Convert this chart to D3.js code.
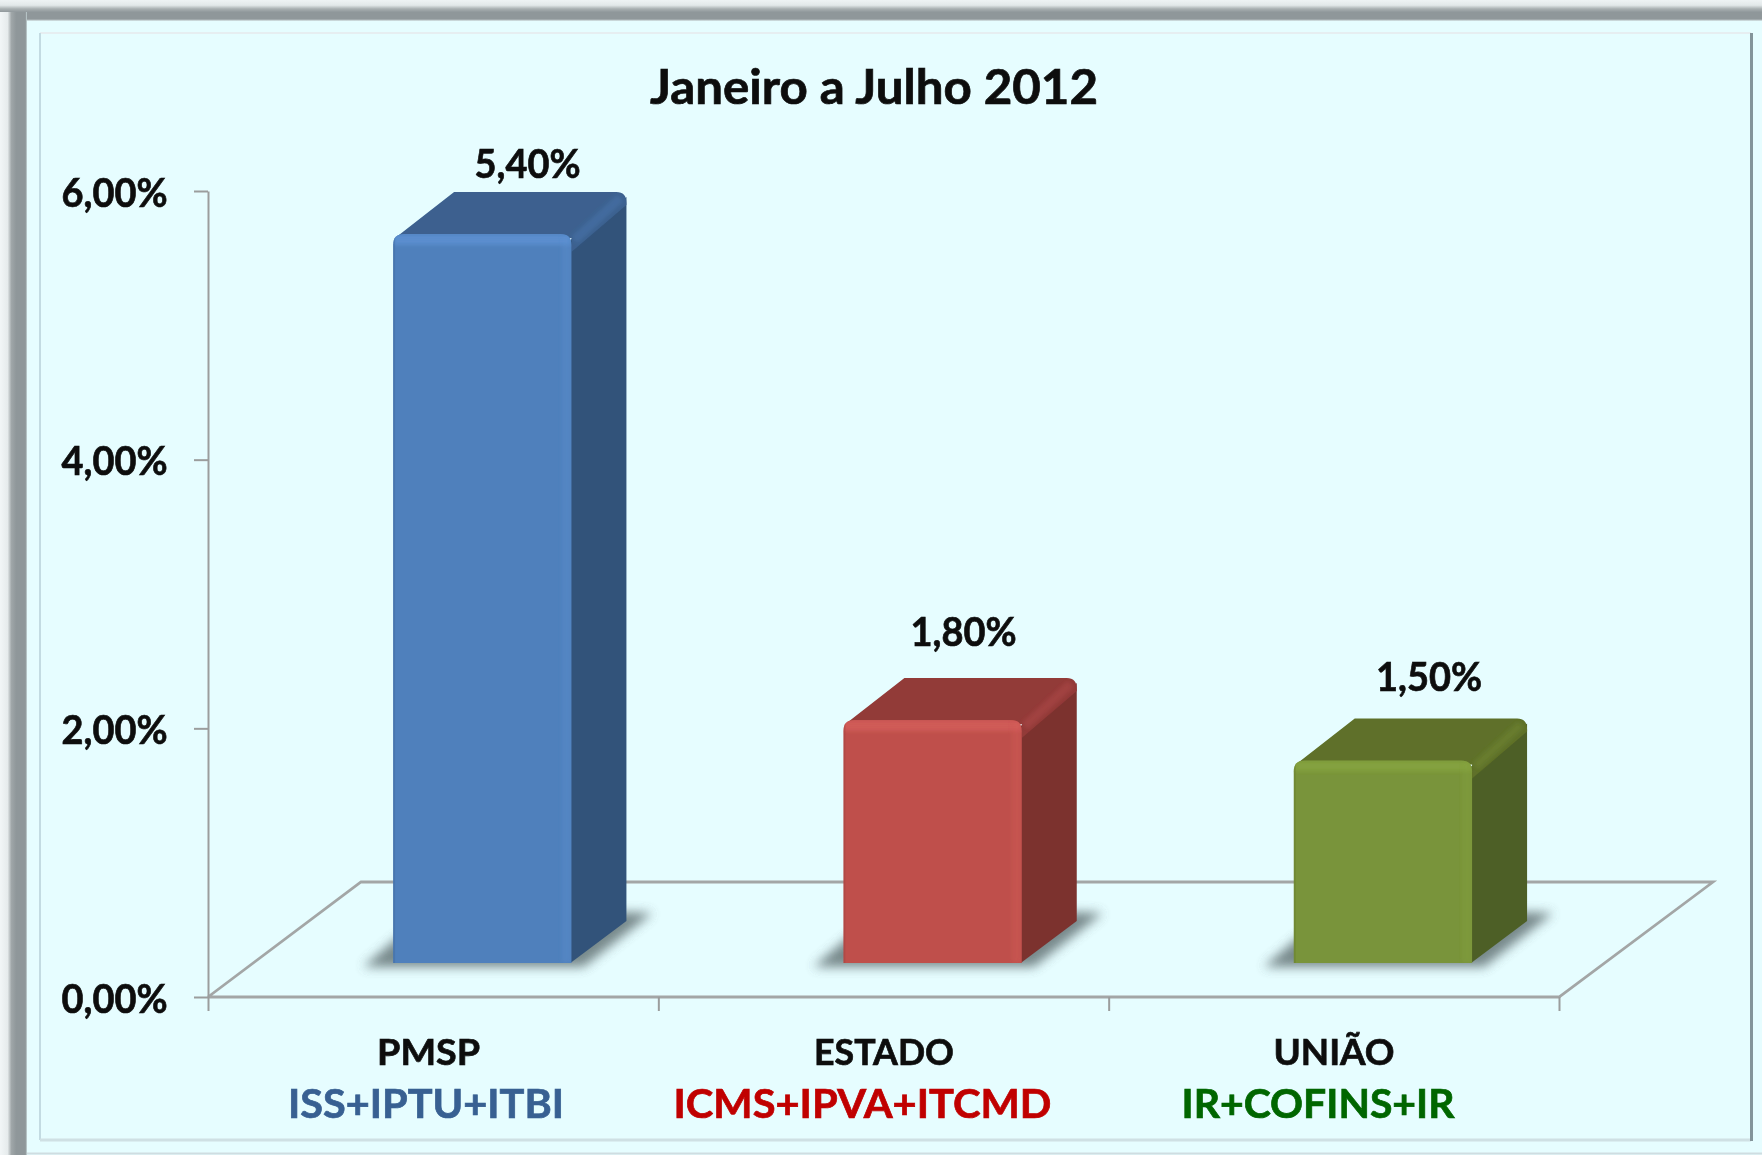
<!DOCTYPE html>
<html><head><meta charset="utf-8">
<script src="https://cdn.jsdelivr.net/npm/d3@7"></script>
<style>html,body{margin:0;padding:0;background:#e6fdff}svg{display:block}text{font-family:Lato,"Noto Sans",sans-serif;font-weight:700;stroke-width:.7;paint-order:stroke}</style>
</head><body><svg id="c" width="1762" height="1155"></svg>
<script>
const title = "Janeiro a Julho 2012";
const categories = ["PMSP", "ESTADO", "UNIÃO"];
const subLabels = ["ISS+IPTU+ITBI", "ICMS+IPVA+ITCMD", "IR+COFINS+IR"];
const values = [5.4, 1.8, 1.5];
const yTicks = [0, 2, 4, 6];
const fmt = v => v.toFixed(2).replace(".", ",") + "%";

// styling, kept apart from the data
const front = ["#4f80bc", "#bf504c", "#79943a"];
const side = ["#31527a", "#7c322f", "#4e5f25"];
const top_ = ["#3c618f", "#923a38", "#5e7029"];
const shine = ["#5f93d4", "#d65f5b", "#87a53f"];
const subColor = ["#376092", "#c00000", "#006600"];
const nameX = [428.6, 884, 1334], subX = [426, 862.5, 1318];
const nameW = [103, 140, 121], subW = [276, 378, 273];
const labelX = [527.5, 963.5, 1429];

const svg = d3.select("#c"), defs = svg.append("defs");
const W = 1762, H = 1155;
const blur = (id, s) => defs.append("filter").attr("id", id)
  .attr("x", "-30%").attr("y", "-30%").attr("width", "160%").attr("height", "160%")
  .append("feGaussianBlur").attr("stdDeviation", s);
blur("soft", 0.6); blur("sh", 5.5); blur("edge", 2);
const grad = (id, v, stops) => {
  const g = defs.append("linearGradient").attr("id", id)
    .attr("x1", 0).attr("y1", 0).attr("x2", v ? 0 : 1).attr("y2", v ? 1 : 0);
  stops.forEach(([o, c]) => g.append("stop").attr("offset", o).attr("stop-color", c));
};
grad("gTop", true, [[0, "#eef3f4"], [.25, "#e2e8e9"], [.42, "#a9b0b2"], [.58, "#8f979a"], [.9, "#8f979a"], [.96, "#b5bdbf"], [1, "#e6fdff"]]);
grad("gLeft", false, [[0, "#f2f6f7"], [.28, "#e6ebec"], [.42, "#a0a7a9"], [.6, "#8f979a"], [.94, "#8f979a"], [1, "#c6d6d8"]]);

// frame
svg.append("rect").attr("width", W).attr("height", H).attr("fill", "#e6fdff");
svg.append("rect").attr("width", W).attr("height", 21).attr("fill", "url(#gTop)");
svg.append("rect").attr("y", 12).attr("width", 27).attr("height", H - 12).attr("fill", "url(#gLeft)");
const border = (x1, y1, x2, y2, c, w) => svg.append("line").attr("x1", x1).attr("y1", y1).attr("x2", x2).attr("y2", y2).attr("stroke", c).attr("stroke-width", w);
border(40, 33, 1751, 33, "#e6eef1", 2);
border(40, 33, 40, 1140, "#c3dbe2", 2);
border(40, 1140, 1751, 1140, "#cfe0e4", 3);
border(1751.5, 33, 1751.5, 1141, "#83949a", 3);
border(27, 1153.5, W, 1153.5, "#cfdde1", 2);

// scales
const y = d3.scaleLinear().domain([0, 6]).range([997, 191]);
const edge = d3.scaleLinear().domain([0, 3]).range([208, 1559]);
const x = d3.scaleBand().domain(categories).range([208, 1559]);
const yBar = d3.scaleLinear().domain([0, 6]).range([963, 963 - 6 * 135]);

const plot = svg.append("g").attr("filter", "url(#soft)");
const depth = { x: 55, y: -42 };
const floorDepth = { x: 153, y: -115 };

// floor
plot.append("path").attr("fill", "none").attr("stroke", "#a3a6a6").attr("stroke-width", 2.8)
  .attr("d", d3.line()([
    [edge(0), y(0)],
    [edge(0) + floorDepth.x, y(0) + floorDepth.y],
    [edge(3) + floorDepth.x + 1, y(0) + floorDepth.y],
    [edge(3), y(0)],
    [edge(0), y(0)]
  ]));

// axes
const yAxis = d3.axisLeft(y).tickValues(yTicks).tickSize(14).tickSizeOuter(0).tickFormat("");
const gy = plot.append("g").attr("transform", "translate(208,0)").call(yAxis);
const xAxis = d3.axisBottom(edge).tickValues([0, 1, 2, 3]).tickSize(14).tickSizeOuter(0).tickFormat("");
const gx = plot.append("g").attr("transform", "translate(0,997)").call(xAxis);
[gy, gx].forEach(g => { g.selectAll("path,line").attr("stroke", "#9b9d9d").attr("stroke-width", 2); });
gx.select("path").remove();

// bars
const barGeom = i => {
  const band = x.bandwidth();
  const x0 = x(categories[i]) + band * 0.411, x1 = x0 + band * 0.396;
  return { x0, x1, yt: yBar(values[i]), yb: yBar(0) };
};
const shadows = plot.append("g").attr("filter", "url(#sh)").attr("opacity", .8);
categories.forEach((c, i) => {
  const { x0, x1, yb } = barGeom(i);
  shadows.append("path").attr("fill", "#5c6c6e")
    .attr("d", d3.line()([[x0 - 30, yb + 4], [x0 + 5, yb - 26], [x1 + depth.x, yb + depth.y - 9],
      [x1 + depth.x + 26, yb + depth.y - 8], [x1 + 12, yb + 4]]) + "Z");
});
categories.forEach((c, i) => {
  const { x0, x1, yt, yb } = barGeom(i);
  const r = 11, g = plot.append("g");
  const clip = "fc" + i;
  const frontPath = `M${x0},${yb}V${yt + r}Q${x0},${yt} ${x0 + r},${yt}H${x1 - r}Q${x1},${yt} ${x1},${yt + r}V${yb}Z`;
  // side face
  g.append("path").attr("fill", side[i])
    .attr("d", `M${x1 - 1},${yb}L${x1 + depth.x},${yb + depth.y}V${yt + depth.y + 5}L${x1 - 1},${yt + 6}Z`);
  // top face
  g.append("path").attr("fill", top_[i])
    .attr("d", `M${x0 + 2},${yt + 4}L${x0 + depth.x + 6},${yt + depth.y}H${x1 + depth.x - 10}Q${x1 + depth.x},${yt + depth.y} ${x1 + depth.x},${yt + depth.y + 11}V${yt + depth.y + 13}L${x1},${yt + 18}V${yt + 4}Z`);
  // lighter bevel along the top-right edge
  g.append("line").attr("x1", x1 + 3).attr("y1", yt + 6).attr("x2", x1 + depth.x - 6).attr("y2", yt + depth.y + 6)
    .attr("stroke", shine[i]).attr("stroke-opacity", .22).attr("stroke-width", 9).attr("filter", "url(#edge)");
  // front face with bevels
  defs.append("clipPath").attr("id", clip).append("path").attr("d", frontPath);
  g.append("path").attr("fill", front[i]).attr("d", frontPath);
  const bevel = g.append("g").attr("clip-path", `url(#${clip})`);
  bevel.append("rect").attr("x", x0).attr("y", yt).attr("width", x1 - x0).attr("height", 11)
    .attr("fill", shine[i]).attr("opacity", .75).attr("filter", "url(#edge)");
  bevel.append("rect").attr("x", x1 - 10).attr("y", yt).attr("width", 10).attr("height", yb - yt)
    .attr("fill", shine[i]).attr("opacity", .3).attr("filter", "url(#edge)");
  bevel.append("rect").attr("x", x0).attr("y", yt).attr("width", 2).attr("height", yb - yt)
    .attr("fill", side[i]).attr("opacity", .2);
});

// text
const labels = svg.append("g").attr("filter", "url(#soft)").attr("text-anchor", "middle");
const put = (s, px, py, size, len, color) => labels.append("text").attr("x", px).attr("y", py)
  .attr("font-size", size).attr("fill", color).attr("stroke", color).attr("textLength", len)
  .attr("lengthAdjust", "spacingAndGlyphs").text(s);
put(title, 874, 104, 47, 448, "#0d0d0d");
yTicks.forEach(t => put(fmt(t), 114.5, y(t) + 15.5, 40, 106, "#0d0d0d"));
values.forEach((v, i) => put(fmt(v), labelX[i], yBar(v) + depth.y - [14, 32, 28][i], 40, 106, "#0d0d0d"));
categories.forEach((c, i) => {
  put(c, nameX[i], 1064.5, 37, nameW[i], "#0d0d0d");
  put(subLabels[i], subX[i], 1117.5, 41, subW[i], subColor[i]);
});
</script></body></html>
